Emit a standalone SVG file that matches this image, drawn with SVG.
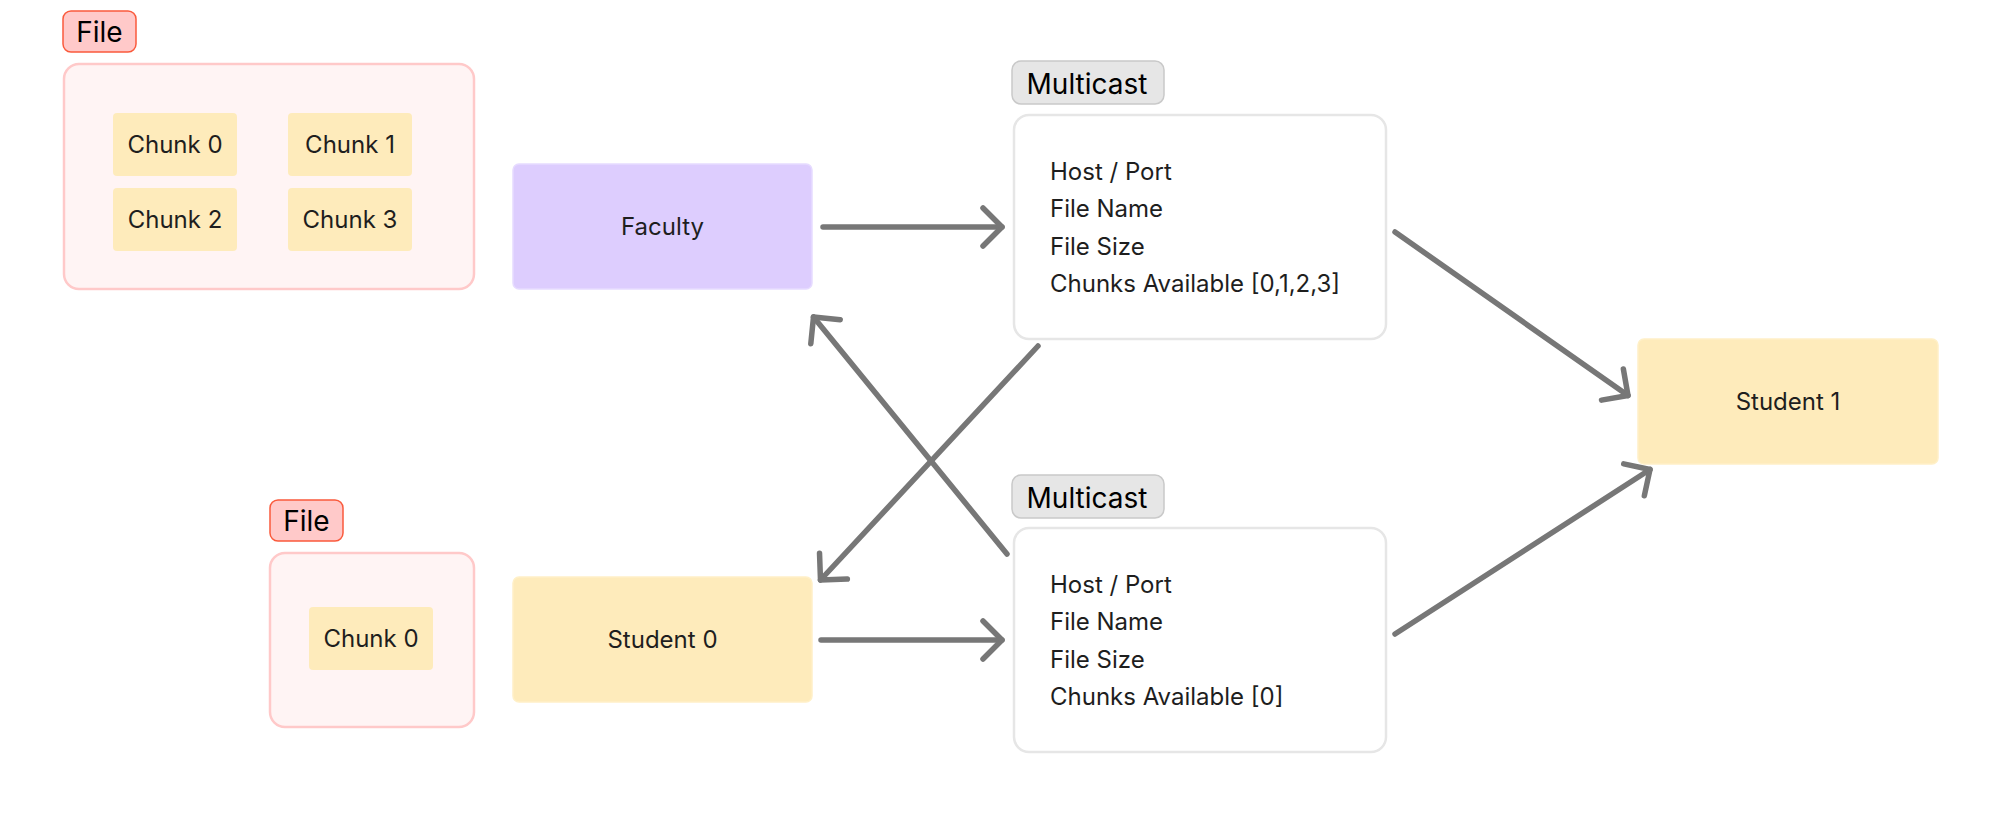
<svg xmlns="http://www.w3.org/2000/svg" width="2000" height="815" viewBox="0 0 2000 815">
<style>
text{font-family:Inter,"Noto Sans","Liberation Sans",sans-serif;fill:#1e1e1e}
.lbl{font-size:24px;text-anchor:middle;dominant-baseline:central}
.badge{font-size:28px;fill:#000}
.line{font-size:24px}
.fbadge{fill:#ffc9c9;stroke:#fa5a3c;stroke-width:1.5}
.mbadge{fill:#e6e6e6;stroke:#c9c9c9;stroke-width:1.5}
.fcont{fill:#fff4f4;stroke:#ffc9c9;stroke-width:2.5}
.mcont{fill:#ffffff;stroke:#e6e6e6;stroke-width:2.5}
.yel{fill:#feebbb;stroke:#fff0c8;stroke-width:1.5}
.chunk{fill:#feebbb}
.pur{fill:#ddcdfe;stroke:#e6dbff;stroke-width:1.5}
.conn{stroke:#777777;stroke-width:5.5;stroke-linecap:round;fill:none;marker-end:url(#ah)}
</style>
<defs>
<marker id="ah" markerUnits="userSpaceOnUse" viewBox="-25 -25 30 50" markerWidth="30" markerHeight="50" refX="0" refY="0" orient="auto" overflow="visible">
<path d="M-19,-19 L0,0 L-19,19" fill="none" stroke="#777777" stroke-width="5.5" stroke-linecap="round" stroke-linejoin="round"/>
</marker>
</defs>
<rect width="2000" height="815" fill="#ffffff"/>

<g id="file1">
<rect class="fbadge" x="63" y="11" width="73" height="41" rx="8"/>
<text class="badge" x="99.5" y="42" text-anchor="middle">File</text>
<rect class="fcont" x="64" y="64" width="410" height="225" rx="15"/>
</g>
<g id="chunk0a"><rect class="chunk" x="113" y="113" width="124" height="63" rx="4"/><text class="lbl" x="175" y="144.5">Chunk 0</text></g>
<g id="chunk1a"><rect class="chunk" x="288" y="113" width="124" height="63" rx="4"/><text class="lbl" x="350" y="144.5">Chunk 1</text></g>
<g id="chunk2a"><rect class="chunk" x="113" y="188" width="124" height="63" rx="4"/><text class="lbl" x="175" y="219.5">Chunk 2</text></g>
<g id="chunk3a"><rect class="chunk" x="288" y="188" width="124" height="63" rx="4"/><text class="lbl" x="350" y="219.5">Chunk 3</text></g>

<g id="faculty"><rect class="pur" x="513" y="164" width="299" height="125" rx="6"/><text class="lbl" x="662.5" y="226.5">Faculty</text></g>

<g id="multicast1">
<rect class="mbadge" x="1012" y="61" width="152" height="43" rx="9"/>
<text class="badge" x="1087" y="93.5" text-anchor="middle">Multicast</text>
<rect class="mcont" x="1014" y="115" width="372" height="224" rx="15"/>
<text class="line" x="1050" y="179.5">Host / Port</text>
<text class="line" x="1050" y="217">File Name</text>
<text class="line" x="1050" y="254.5">File Size</text>
<text class="line" x="1050" y="292">Chunks Available [0,1,2,3]</text>
</g>

<g id="student1"><rect class="yel" x="1638" y="339" width="300" height="125" rx="6"/><text class="lbl" x="1788" y="401.5">Student 1</text></g>

<g id="file2">
<rect class="fbadge" x="270" y="500" width="73" height="41" rx="8"/>
<text class="badge" x="306.5" y="531" text-anchor="middle">File</text>
<rect class="fcont" x="270" y="553" width="204" height="174" rx="15"/>
</g>
<g id="chunk0b"><rect class="chunk" x="309" y="607" width="124" height="63" rx="4"/><text class="lbl" x="371" y="638.5">Chunk 0</text></g>

<g id="student0"><rect class="yel" x="513" y="577" width="299" height="125" rx="6"/><text class="lbl" x="662.5" y="639.5">Student 0</text></g>

<g id="multicast2">
<rect class="mbadge" x="1012" y="475" width="152" height="43" rx="9"/>
<text class="badge" x="1087" y="507.5" text-anchor="middle">Multicast</text>
<rect class="mcont" x="1014" y="528" width="372" height="224" rx="15"/>
<text class="line" x="1050" y="592.5">Host / Port</text>
<text class="line" x="1050" y="630">File Name</text>
<text class="line" x="1050" y="667.5">File Size</text>
<text class="line" x="1050" y="705">Chunks Available [0]</text>
</g>

<g id="connectors">
<line class="conn" x1="823" y1="227" x2="1002" y2="227"/>
<line class="conn" x1="821" y1="640" x2="1002" y2="640"/>
<line class="conn" x1="1395" y1="232" x2="1628" y2="395.5"/>
<line class="conn" x1="1395" y1="634" x2="1650" y2="469.5"/>
<line class="conn" x1="1038" y1="346" x2="820.5" y2="580"/>
<line class="conn" x1="1007" y1="554" x2="813.5" y2="317"/>
</g>
</svg>
